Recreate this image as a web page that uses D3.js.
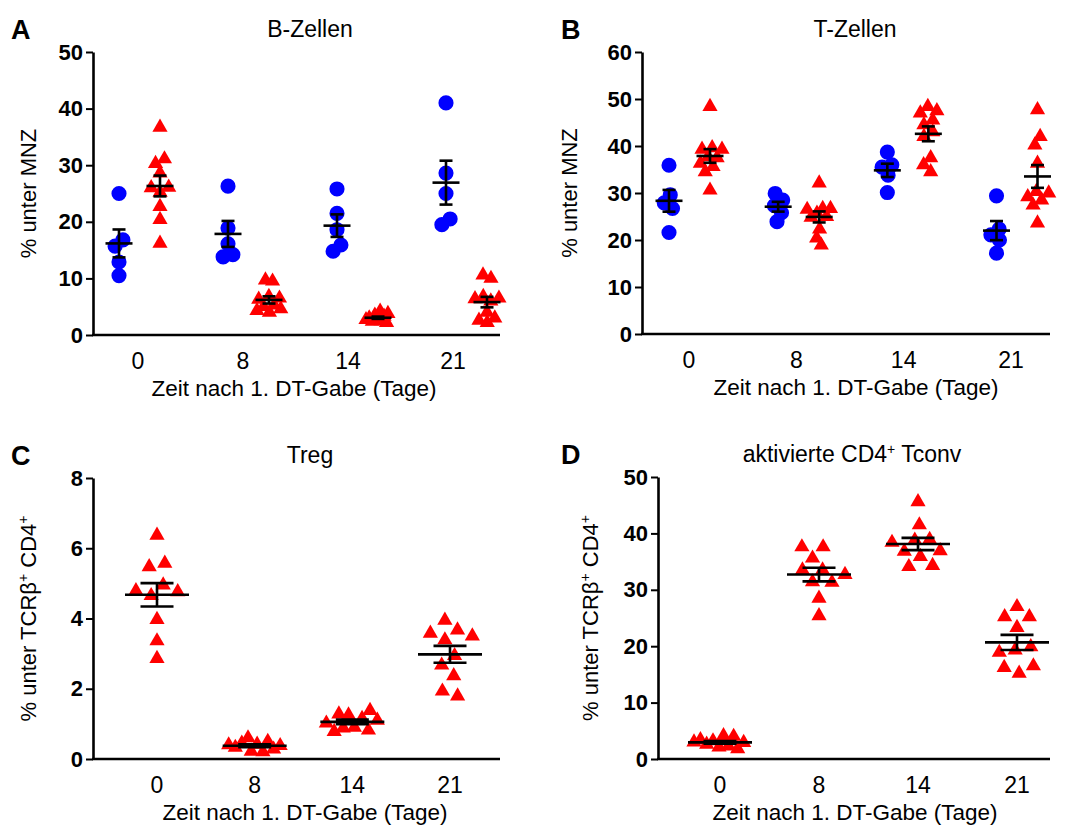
<!DOCTYPE html>
<meta charset="utf-8">
<script src="https://d3js.org/d3.v7.min.js"></script>
<title>DT-Depletion</title>
<style>
  body { margin: 0; background: #fff; }
  text { font-family: Arial, "Liberation Sans", sans-serif; fill: #000; }
</style>
<div id="chart"></div>
<script>

  // days after the first DT injection
  var days = ["0", "8", "14", "21"];

  // A: B-Zellen, % unter MNZ (blue = control, red = DT)
  var bCtrl = [
    [25.0, 16.8, 15.7, 12.9, 10.5],
    [26.3, 18.9, 16.1, 14.2, 13.8],
    [25.8, 21.5, 18.6, 15.9, 14.8],
    [41.0, 28.6, 25.0, 20.5, 19.5]
  ];
  var bDT = [
    [36.7, 31.1, 30.3, 28.6, 26.1, 25.2, 26.0, 22.7, 20.4, 16.2],
    [9.7, 9.5, 6.8, 6.5, 6.3, 5.3, 5.0, 4.6, 4.3, 4.0],
    [4.2, 3.8, 3.5, 3.3, 3.0, 2.9, 2.7, 2.5, 2.4, 2.2],
    [10.6, 10.0, 6.8, 6.5, 6.4, 6.0, 4.0, 3.0, 2.6, 2.2]
  ];

  // B: T-Zellen, % unter MNZ
  var tCtrl = [
    [35.9, 29.6, 27.9, 26.7, 21.6],
    [29.9, 28.5, 27.3, 25.8, 23.9],
    [38.7, 36.0, 35.5, 33.8, 30.1],
    [29.4, 22.3, 21.1, 20.0, 17.2]
  ];
  var tDT = [
    [48.4, 39.6, 39.3, 39.3, 37.7, 37.5, 36.3, 35.6, 34.5, 30.6],
    [32.1, 26.7, 26.5, 26.7, 25.7, 25.0, 24.8, 22.3, 20.4, 18.9],
    [48.4, 47.5, 47.0, 45.5, 44.5, 43.0, 42.0, 37.5, 36.0, 34.5],
    [47.7, 42.0, 40.2, 36.3, 30.3, 30.0, 29.2, 28.5, 27.4, 23.6]
  ];

  // C: Treg, % unter TCRb+ CD4+
  var tregDT = [
    [6.37, 5.57, 5.47, 4.95, 4.79, 4.76, 4.65, 3.97, 3.36, 2.86],
    [0.6, 0.5, 0.45, 0.42, 0.4, 0.38, 0.33, 0.28, 0.22, 0.2],
    [1.38, 1.25, 1.28, 1.15, 1.02, 1.1, 0.88, 0.9, 0.78, 0.82],
    [3.95, 3.67, 3.58, 3.5, 3.39, 2.94, 2.67, 2.37, 1.93, 1.79]
  ];

  // D: aktivierte CD4+ Tconv, % unter TCRb+ CD4+
  var tconvDT = [
    [4.1, 4.0, 3.4, 3.2, 3.0, 2.9, 2.6, 2.3, 2.1, 1.8],
    [37.6, 37.6, 35.6, 33.5, 33.5, 32.7, 31.4, 31.3, 28.5, 25.4],
    [45.6, 41.5, 38.8, 38.9, 38.4, 36.9, 36.8, 35.9, 34.1, 34.3],
    [27.0, 25.2, 25.2, 23.3, 19.3, 19.9, 18.9, 16.5, 16.2, 15.2]
  ];

  var blue = "#0000ff", red = "#ff0000";

  var svg = d3.select("#chart")
    .append("svg")
      .attr("width", 1072)
      .attr("height", 830);

  // spread points of one group sideways so they do not sit on top of each other,
  // then squeeze the group if it got wider than Prism would draw it
  function swarm(vals, y, cx, r, maxOff) {
    var nodes = vals.map(function(v, i) {
      return { v: v, x: cx + (i % 2 ? 1 : -1) * i * 0.5, fy: y(v) };
    });
    var sim = d3.forceSimulation(nodes)
      .force("x", d3.forceX(cx).strength(0.15))
      .force("c", d3.forceCollide(r))
      .stop();
    for (var k = 0; k < 300; k++) sim.tick();
    var widest = d3.max(nodes, function(n) { return Math.abs(n.x - cx); });
    if (widest > maxOff) {
      nodes.forEach(function(n) { n.x = cx + (n.x - cx) * maxOff / widest; });
    }
    return nodes;
  }

  function yTitle(sel, withTcr) {
    if (!withTcr) { sel.text("% unter MNZ"); return; }
    sel.append("tspan").text("% unter TCRβ");
    sel.append("tspan").attr("dy", -8).style("font-size", "14px").text("+");
    sel.append("tspan").attr("dy", 8).text(" CD4");
    sel.append("tspan").attr("dy", -8).style("font-size", "14px").text("+");
  }

  function panel(p) {
    var g = svg.append("g");
    var y = d3.scaleLinear().domain([0, p.ymax]).range([p.yBot, p.yTop]);
    var x = d3.scalePoint().domain(days).range(p.centers);
    var xl = d3.scalePoint().domain(days).range(p.labels);

    // y axis
    var ax = g.append("g")
      .attr("transform", "translate(" + p.x0 + ",0)")
      .call(d3.axisLeft(y).tickValues(d3.range(0, p.ymax + 0.001, p.step))
        .tickSize(7).tickSizeOuter(0).tickPadding(3));
    ax.select(".domain").attr("stroke-width", 2.6);
    ax.selectAll(".tick line").attr("stroke-width", 2);
    ax.selectAll(".tick text")
      .style("font-size", "22px").style("font-weight", "bold")
      .style("font-family", "Arial, 'Liberation Sans', sans-serif");

    // x axis: plain line plus group labels
    g.append("line")
      .attr("x1", p.x0 - 1).attr("x2", p.x1)
      .attr("y1", p.yBot).attr("y2", p.yBot)
      .attr("stroke", "#000").attr("stroke-width", 2.6);
    g.selectAll(".xlab")
      .data(days).enter()
      .append("text")
        .attr("x", function(d) { return xl(d); })
        .attr("y", p.yBot + 34)
        .attr("text-anchor", "middle")
        .style("font-size", "23px")
        .text(function(d) { return d; });

    g.append("text")
      .attr("x", p.xTitle).attr("y", p.yBot + 61)
      .attr("text-anchor", "middle")
      .style("font-size", "22.5px")
      .text("Zeit nach 1. DT-Gabe (Tage)");

    g.append("text")
      .attr("transform", "translate(" + p.yTitleX + "," + ((p.yTop + p.yBot) / 2) + ") rotate(-90)")
      .attr("text-anchor", "middle")
      .style("font-size", "22px")
      .call(yTitle, p.tcr);

    // panel letter and title
    g.append("text")
      .attr("x", p.letterX).attr("y", p.yTop - 13)
      .style("font-size", "27px").style("font-weight", "bold")
      .text(p.letter);
    var t = g.append("text")
      .attr("x", p.xHead).attr("y", p.yTop - 15)
      .attr("text-anchor", "middle")
      .style("font-size", "23px");
    p.head(t);

    // points
    var bars = [];
    p.series.forEach(function(s) {
      var sym = d3.symbol().type(s.shape).size(s.shape === d3.symbolCircle ? 180 : 100);
      days.forEach(function(d, i) {
        var cx = x(d) + s.offset;
        var nodes = swarm(s.values[i], y, cx, p.r, p.maxOff);
        g.append("g").selectAll("path")
          .data(nodes).enter()
          .append("path")
            .attr("d", sym)
            .attr("transform", function(n) { return "translate(" + n.x + "," + n.fy + ")"; })
            .attr("fill", s.color);
        var m = d3.mean(s.values[i]);
        var se = d3.deviation(s.values[i]) / Math.sqrt(s.values[i].length);
        bars.push({ cx: cx, m: m, se: se });
      });
    });

    // mean +- SEM on top
    var eb = g.append("g").attr("stroke", "#000").attr("stroke-width", 2.6);
    bars.forEach(function(b) {
      eb.append("line").attr("x1", b.cx - p.meanW / 2).attr("x2", b.cx + p.meanW / 2)
        .attr("y1", y(b.m)).attr("y2", y(b.m));
      eb.append("line").attr("x1", b.cx).attr("x2", b.cx)
        .attr("y1", y(b.m - b.se)).attr("y2", y(b.m + b.se));
      [b.m - b.se, b.m + b.se].forEach(function(v) {
        eb.append("line").attr("x1", b.cx - p.capW / 2).attr("x2", b.cx + p.capW / 2)
          .attr("y1", y(v)).attr("y2", y(v));
      });
    });
  }

  function plainHead(label) {
    return function(t) { t.text(label); };
  }

  panel({
    letter: "A", letterX: 11, head: plainHead("B-Zellen"), xHead: 310,
    x0: 93, x1: 500, yTop: 52, yBot: 335, ymax: 50, step: 10,
    centers: [139.5, 466.5], labels: [138, 453], xTitle: 294, yTitleX: 36, tcr: false,
    meanW: 27, capW: 13, r: 5, maxOff: 12,
    series: [
      { values: bCtrl, color: blue, shape: d3.symbolCircle, offset: -20.5 },
      { values: bDT, color: red, shape: d3.symbolTriangle, offset: 20.5 }
    ]
  });

  panel({
    letter: "B", letterX: 561, head: plainHead("T-Zellen"), xHead: 855,
    x0: 642, x1: 1050, yTop: 52, yBot: 334, ymax: 60, step: 10,
    centers: [689.5, 1017], labels: [689, 1011], xTitle: 856, yTitleX: 577, tcr: false,
    meanW: 27, capW: 13, r: 5, maxOff: 12,
    series: [
      { values: tCtrl, color: blue, shape: d3.symbolCircle, offset: -20.5 },
      { values: tDT, color: red, shape: d3.symbolTriangle, offset: 20.5 }
    ]
  });

  panel({
    letter: "C", letterX: 11, head: plainHead("Treg"), xHead: 310,
    x0: 93, x1: 500, yTop: 478, yBot: 759, ymax: 8, step: 2,
    centers: [157, 450], labels: [157, 450], xTitle: 305, yTitleX: 36, tcr: true,
    meanW: 64, capW: 33, r: 8, maxOff: 26,
    series: [
      { values: tregDT, color: red, shape: d3.symbolTriangle, offset: 0 }
    ]
  });

  panel({
    letter: "D", letterX: 561, xHead: 852,
    head: function(t) {
      t.append("tspan").text("aktivierte CD4");
      t.append("tspan").attr("dy", -8).style("font-size", "14px").text("+");
      t.append("tspan").attr("dy", 8).text(" Tconv");
    },
    x0: 658, x1: 1050, yTop: 477, yBot: 759, ymax: 50, step: 10,
    centers: [720, 1017], labels: [720, 1017], xTitle: 855, yTitleX: 598, tcr: true,
    meanW: 64, capW: 33, r: 8, maxOff: 26,
    series: [
      { values: tconvDT, color: red, shape: d3.symbolTriangle, offset: 0 }
    ]
  });

</script>
